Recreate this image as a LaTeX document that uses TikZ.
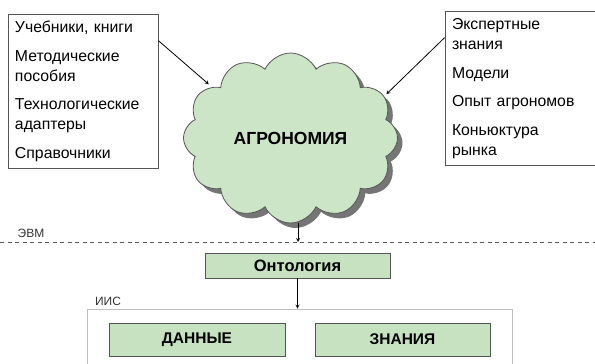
\documentclass[tikz,border=0pt]{standalone}
\usepackage{fontspec}
\setmainfont{Liberation Sans}
\usetikzlibrary{shapes.symbols,shadows,arrows}
\definecolor{agrogreen}{RGB}{204,229,198}
\definecolor{boxgreen}{RGB}{199,226,192}
\definecolor{edgegray}{RGB}{85,85,85}
\tikzset{
  infobox/.style={draw=edgegray, rectangle, align=left, text width=136pt, inner sep=7pt, minimum height=151pt, font=\fontsize{15.8}{20}\selectfont},
  greenbox/.style={draw=edgegray, fill=boxgreen, inner sep=0pt, font=\bfseries\fontsize{15.5}{18}\selectfont},
  smalltext/.style={font=\fontsize{12}{14}\selectfont, text=black!80}
}
\begin{document}
\begin{tikzpicture}[>=stealth, x=1pt, y=-1pt, line width=0.8pt]
\clip (0,0) rectangle (595,364);
\node[infobox](books) at (83,91.5){Учебники, книги\\[8.5pt]Методические\\пособия\\[8.5pt]Технологические\\адаптеры\\[8.5pt]Справочники};
\node[infobox](expert) at (520,88.5){Экспертные\\знания\\[8.5pt]Модели\\[8.5pt]Опыт агрономов\\[8.5pt]Коньюктура\\рынка};
\node[cloud, cloud puffs=12, cloud puff arc=130, cloud ignores aspect, minimum width=214pt, minimum height=170pt, draw=edgegray, fill=agrogreen,
  drop shadow={shadow xshift=5pt, shadow yshift=-5pt, fill=black!60, opacity=0.9},
  font=\bfseries\fontsize{17.5}{20}\selectfont](agro) at (290.5,138){АГРОНОМИЯ};
\coordinate (evm) at (298,242);
\node[smalltext](evmlabel) at (31,233){ЭВМ};
\node[greenbox, minimum width=185pt, minimum height=25pt, font=\bfseries\fontsize{16.5}{18}\selectfont](onto) at (297.5,265.5){Онтология};
\node[draw=black!25, minimum width=425pt, minimum height=80pt](iis) at (299.5,349){};
\node[smalltext](iislabel) at (108,301){ИИС};
\node[greenbox, minimum width=176pt, minimum height=33pt](data) at (197,339.5){ДАННЫЕ};
\node[greenbox, minimum width=175pt, minimum height=33pt](know) at (402.5,339.5){ЗНАНИЯ};

\draw[black!65, dashed, dash pattern=on 4pt off 3.5pt](0,242)--(595,242);
\draw[->, shorten >=4pt](books.34.5)--(agro.147);
\draw[->, shorten >=3pt](expert.146)--(agro.24);
\draw[->](agro.south -| evm)--(evm);
\draw[->](onto.south)--(onto.south |- iis.north);
\end{tikzpicture}
\end{document}
